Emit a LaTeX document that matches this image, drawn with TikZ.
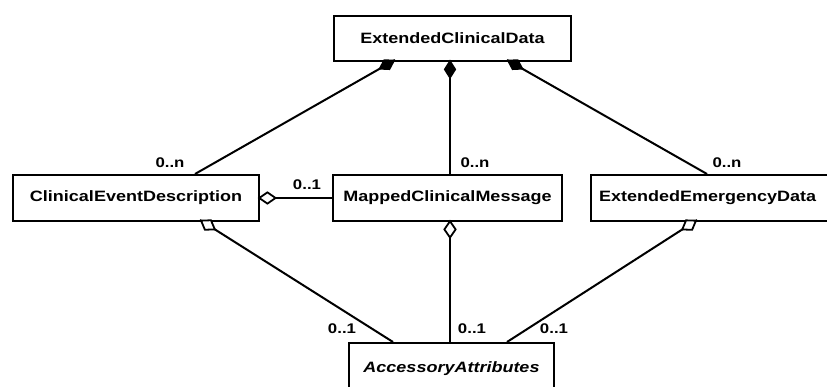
\documentclass[tikz,border=0pt]{standalone}
\usepackage{fontspec}
\usepackage{graphicx}
\setmainfont{Liberation Sans}
\usetikzlibrary{shapes.geometric}
\newcommand{\wtxt}[1]{\scalebox{1.2}[1]{#1}}
\begin{document}
\begin{tikzpicture}[x=1pt,y=-1pt,
  cls/.style={draw,line width=2pt,anchor=north west,inner sep=0pt,font=\bfseries\fontsize{15}{17}\selectfont},
  conn/.style={line width=2pt},
  dia/.style={diamond,draw,line width=1.8pt,inner sep=0pt,minimum width=17pt,minimum height=11pt,sloped,allow upside down,anchor=east,pos=1},
  comp/.style={dia,fill=black},
  aggr/.style={dia,fill=white,minimum height=12pt},
  mult/.style={font=\bfseries\fontsize{14}{16}\selectfont,inner sep=0pt}]
\useasboundingbox (0,0) rectangle (827,387);
\node[cls,minimum width=237pt,minimum height=45pt] (ecd) at (333,15) {\wtxt{ExtendedClinicalData}};
\node[cls,minimum width=246pt,minimum height=46pt] (ced) at (12,174) {\wtxt{ClinicalEventDescription}};
\node[cls,minimum width=229pt,minimum height=46pt] (mcm) at (332,174) {\wtxt{MappedClinicalMessage}};
\node[cls,minimum width=244pt,minimum height=46pt,text width=240pt,align=left] (eed) at (590,174) {\hspace*{6pt}\wtxt{ExtendedEmergencyData}};
\node[cls,minimum width=205pt,minimum height=60pt] (aa) at (348,342) {\raisebox{12pt}{\itshape\wtxt{AccessoryAttributes}}};
% top connectors
\coordinate (t1) at (395,60);
\coordinate (t2) at (450,60);
\coordinate (t3) at (507,60);
\coordinate (c1) at (195,174);
\coordinate (c2) at (450,174);
\coordinate (c3) at (707,174);
\draw[conn] (c1) -- (t1) node[comp] {};
\draw[conn] (c2) -- (t2) node[comp] {};
\draw[conn] (c3) -- (t3) node[comp] {};
% horizontal
\coordinate (h1) at (332,198);
\coordinate (h2) at (258,198);
\draw[conn] (h1) -- (h2) node[aggr] {};
% bottom
\coordinate (b1) at (200,220);
\coordinate (b2) at (450,220);
\coordinate (b3) at (697,220);
\coordinate (a1) at (393,342);
\coordinate (a2) at (450,342);
\coordinate (a3) at (507,342);
\draw[conn] (a1) -- (b1) node[aggr] {};
\draw[conn] (a2) -- (b2) node[aggr] {};
\draw[conn] (a3) -- (b3) node[aggr] {};
% multiplicities
\node[mult] (m1) at (170,163) {\wtxt{0..n}};
\node[mult] (m2) at (307,185) {\wtxt{0..1}};
\node[mult] (m3) at (475,163) {\wtxt{0..n}};
\node[mult] (m4) at (727,163) {\wtxt{0..n}};
\node[mult] (m5) at (342,329) {\wtxt{0..1}};
\node[mult] (m6) at (472,329) {\wtxt{0..1}};
\node[mult] (m7) at (554,329) {\wtxt{0..1}};
\end{tikzpicture}
\end{document}
